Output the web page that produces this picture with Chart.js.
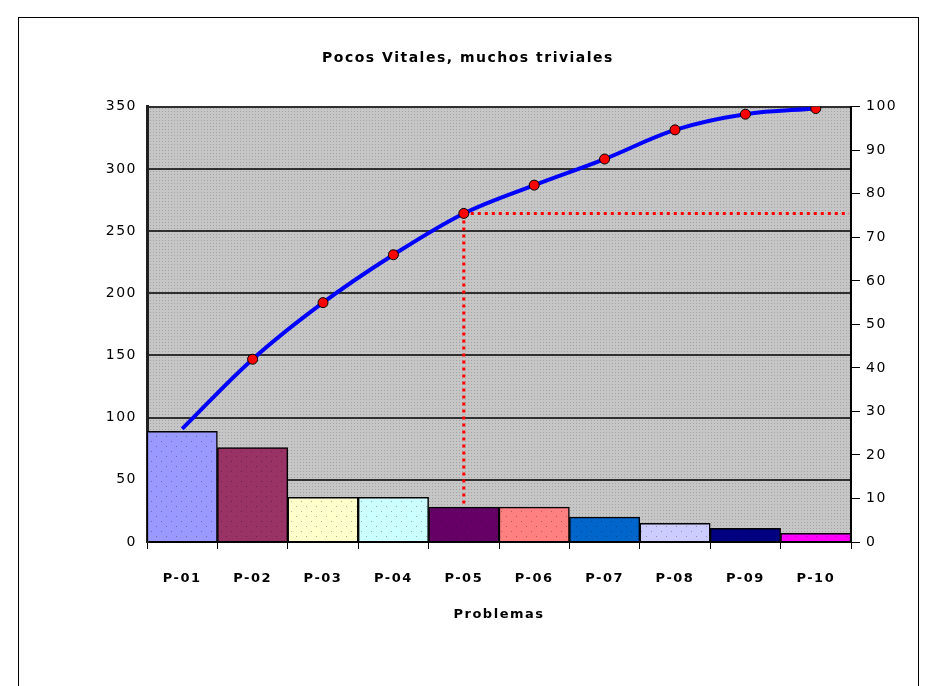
<!DOCTYPE html>
<html>
<head>
<meta charset="utf-8">
<title>Pocos Vitales, muchos triviales</title>
<script src="https://cdn.jsdelivr.net/npm/chart.js@4/dist/chart.umd.min.js"></script>
<style>
  html, body { margin: 0; padding: 0; background: #fff; }
  #wrap { width: 936px; height: 686px; position: relative; }
</style>
</head>
<body>
<div id="wrap"><canvas id="paretoChart" width="936" height="686"></canvas></div>
<script>
// Data
const problemas = ["P-01", "P-02", "P-03", "P-04", "P-05", "P-06", "P-07", "P-08", "P-09", "P-10"];
const frecuencias = [89, 76, 36, 36, 28, 28, 20, 15, 11, 7];
const acumuladoPct = [26, 42, 55, 66, 75.5, 82, 88, 94.7, 98.3, 99.6];
const barColors = ["#9999FF", "#993366", "#FFFFCC", "#CCFFFF", "#660066",
  "#FF8080", "#0066CC", "#CCCCFF", "#000080", "#FF00FF"];
const corteIndex = 4; // P-05, where the dotted guide lines meet

function shade(hex, f) {
  const n = parseInt(hex.slice(1), 16);
  const r = Math.round(((n >> 16) & 255) * f);
  const g = Math.round(((n >> 8) & 255) * f);
  const b = Math.round((n & 255) * f);
  return `rgb(${r},${g},${b})`;
}

function makePattern(base, dot, size) {
  const c = document.createElement("canvas");
  c.width = size;
  c.height = size;
  const cx = c.getContext("2d");
  cx.fillStyle = base;
  cx.fillRect(0, 0, size, size);
  cx.fillStyle = dot;
  cx.fillRect(1, 1, 1, 1);
  cx.fillRect(size / 2 + 1, size / 2 + 1, 1, 1);
  return cx.createPattern(c, "repeat");
}

function plotPattern() {
  const c = document.createElement("canvas");
  c.width = 3;
  c.height = 3;
  const cx = c.getContext("2d");
  cx.fillStyle = "#c6c6c6";
  cx.fillRect(0, 0, 3, 3);
  cx.fillStyle = "#a4a4a4";
  cx.fillRect(0, 0, 1, 1);
  return cx.createPattern(c, "repeat");
}

const barPatterns = barColors.map((col) => makePattern(col, shade(col, 0.7), 10));

// gray dotted plot background + outer frame; wider letter spacing like the original
const backgroundPlugin = {
  id: "plotBackground",
  beforeDraw(chart) {
    const { ctx, chartArea } = chart;
    ctx.save();
    ctx.fillStyle = plotPattern();
    ctx.fillRect(chartArea.left, chartArea.top,
      chartArea.right - chartArea.left, chartArea.bottom - chartArea.top);
    ctx.strokeStyle = "#000";
    ctx.lineWidth = 1;
    ctx.strokeRect(18.5, 17.5, 900, 720);
    ctx.restore();
    ctx.letterSpacing = "1.5px";
  },
};

// red dotted guide lines at P-05
const guidePlugin = {
  id: "guideLines",
  afterDatasetsDraw(chart) {
    const { ctx, chartArea, scales } = chart;
    const x = scales.x.getPixelForValue(corteIndex);
    const yLine = scales.y1.getPixelForValue(acumuladoPct[corteIndex]);
    const yBar = scales.y.getPixelForValue(frecuencias[corteIndex]);
    ctx.save();
    ctx.strokeStyle = "#FF0000";
    ctx.lineWidth = 3;
    ctx.setLineDash([3, 4]);
    ctx.beginPath();
    ctx.moveTo(x, yLine);
    ctx.lineTo(chartArea.right - 2, yLine);
    ctx.moveTo(x, yLine);
    ctx.lineTo(x, yBar);
    ctx.stroke();
    ctx.restore();
  },
};

const ctx = document.getElementById("paretoChart").getContext("2d");
new Chart(ctx, {
  data: {
    labels: problemas,
    datasets: [
      {
        type: "line",
        label: "% acumulado",
        data: acumuladoPct,
        yAxisID: "y1",
        borderColor: "#0000FF",
        borderWidth: 4,
        tension: 0.35,
        pointRadius: acumuladoPct.map((v, i) => (i === 0 ? 0 : 5)),
        pointBackgroundColor: "#FF0000",
        pointBorderColor: "#000000",
        pointBorderWidth: 1,
        order: 0,
      },
      {
        type: "bar",
        label: "Frecuencia",
        data: frecuencias,
        yAxisID: "y",
        backgroundColor: barPatterns,
        borderColor: "#000000",
        borderWidth: 1.5,
        barPercentage: 1,
        categoryPercentage: 1,
        order: 1,
      },
    ],
  },
  options: {
    responsive: false,
    animation: false,
    layout: { padding: 0 },
    plugins: {
      legend: { display: false },
      tooltip: { enabled: false },
      title: {
        display: true,
        text: "Pocos Vitales, muchos triviales",
        color: "#000",
        font: { family: "DejaVu Sans", size: 14, weight: "bold", lineHeight: 1.2 },
        padding: { top: 50, bottom: 40 },
      },
    },
    scales: {
      x: {
        offset: true,
        afterFit(scale) {
          scale.height = 144;
        },
        grid: {
          offset: true,
          drawOnChartArea: false,
          drawTicks: true,
          tickLength: 7,
          color: "#000",
        },
        border: { color: "#000", width: 2 },
        ticks: {
          color: "#000",
          padding: 22,
          font: { family: "DejaVu Sans", size: 13, weight: "bold" },
          maxRotation: 0,
        },
        title: {
          display: true,
          text: "Problemas",
          color: "#000",
          font: { family: "DejaVu Sans", size: 13, weight: "bold", lineHeight: 1.2 },
          padding: { top: 0, bottom: 64 },
        },
      },
      y: {
        position: "left",
        min: 0,
        max: 350,
        afterFit(scale) {
          scale.width = 147;
        },
        grid: {
          color: "#303030",
          lineWidth: 2,
          drawTicks: false,
        },
        border: { color: "#202020", width: 3 },
        ticks: {
          stepSize: 50,
          color: "#000",
          padding: 10,
          font: { family: "DejaVu Sans", size: 14 },
        },
      },
      y1: {
        position: "right",
        min: 0,
        max: 100,
        afterFit(scale) {
          scale.width = 85;
        },
        grid: {
          drawOnChartArea: false,
          drawTicks: true,
          tickLength: 9,
          color: "#000",
        },
        border: { color: "#000", width: 2 },
        ticks: {
          stepSize: 10,
          color: "#000",
          padding: 6,
          font: { family: "DejaVu Sans", size: 14 },
        },
      },
    },
  },
  plugins: [backgroundPlugin, guidePlugin],
});
</script>
</body>
</html>
